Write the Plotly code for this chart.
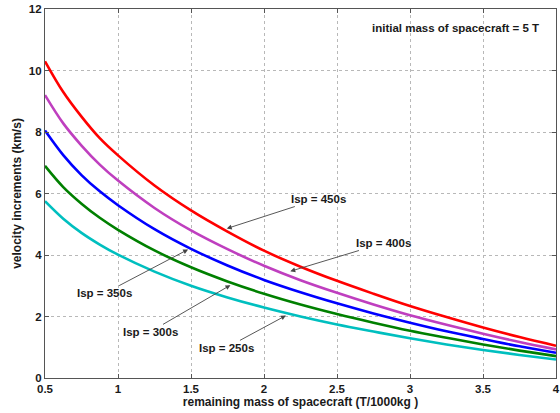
import plotly.graph_objects as go

# remaining mass of spacecraft (T)
mass = [0.5, 0.625, 0.75, 0.875, 1.0, 1.25, 1.5, 1.75, 2.0, 2.25, 2.5, 2.75, 3.0, 3.25, 3.5, 3.75, 4.0]

# velocity increments (km/s) for each specific impulse
dv_450 = [10.3, 9.3, 8.5, 7.8, 7.24, 6.26, 5.45, 4.76, 4.14, 3.62, 3.16, 2.74, 2.34, 1.98, 1.64, 1.33, 1.05]
dv_400 = [9.2, 8.28, 7.56, 6.94, 6.42, 5.53, 4.8, 4.19, 3.65, 3.18, 2.77, 2.39, 2.04, 1.73, 1.44, 1.17, 0.93]
dv_350 = [8.05, 7.25, 6.6, 6.07, 5.62, 4.84, 4.2, 3.66, 3.19, 2.79, 2.43, 2.1, 1.8, 1.52, 1.27, 1.03, 0.82]
dv_300 = [6.9, 6.21, 5.67, 5.21, 4.82, 4.15, 3.6, 3.14, 2.74, 2.39, 2.08, 1.8, 1.54, 1.31, 1.09, 0.89, 0.71]
dv_250 = [5.75, 5.18, 4.72, 4.34, 4.01, 3.46, 3.0, 2.62, 2.29, 2.0, 1.74, 1.51, 1.29, 1.09, 0.91, 0.75, 0.6]

series = [
    ("Isp = 450s", dv_450, "#ff0000"),
    ("Isp = 400s", dv_400, "#bf3fbf"),
    ("Isp = 350s", dv_350, "#0000ff"),
    ("Isp = 300s", dv_300, "#008000"),
    ("Isp = 250s", dv_250, "#00bfbf"),
]

# label placement: (text x, text y, arrow tip x, arrow tip y) in data units
label_pos = {
    "Isp = 450s": (2.37, 5.82, 1.745, 4.86),
    "Isp = 400s": (2.82, 4.39, 2.18, 3.47),
    "Isp = 350s": (0.91, 2.76, 1.48, 4.18),
    "Isp = 300s": (1.22, 1.50, 1.77, 3.02),
    "Isp = 250s": (1.74, 0.98, 2.15, 2.03),
}

x_ticks = [0.5, 1, 1.5, 2, 2.5, 3, 3.5, 4]
x_ticktext = ["0.5", "1", "1.5", "2", "2.5", "3", "3.5", "4"]
y_ticks = [0, 2, 4, 6, 8, 10, 12]

fig = go.Figure()
for name, vals, color in series:
    fig.add_trace(go.Scatter(
        x=mass, y=vals, mode="lines", name=name,
        line=dict(color=color, width=2.6, shape="spline", smoothing=1.0),
        showlegend=False,
    ))

family = "Liberation Sans, Arial, sans-serif"
text_font = dict(family=family, size=11.5, color="#1a1a1a", weight="bold")

annotations = []
for name, (tx, ty, hx, hy) in label_pos.items():
    annotations.append(dict(
        x=hx, y=hy, xref="x", yref="y",
        ax=tx, ay=ty, axref="x", ayref="y",
        text=name, showarrow=True,
        arrowhead=2, arrowsize=1.1, arrowwidth=0.9, arrowcolor="#444444",
        font=text_font, standoff=0, startstandoff=0,
    ))
annotations.append(dict(
    x=3.31, y=11.38, xref="x", yref="y",
    text="initial mass of spacecraft = 5 T", showarrow=False,
    font=text_font,
))

axis_common = dict(
    showline=True, linecolor="#555555", linewidth=1.2, mirror="ticks",
    ticks="inside", ticklen=4, tickcolor="#555555",
    showgrid=True, gridcolor="#b8b8b8", griddash="dot", gridwidth=1,
    zeroline=False, ticklabeloverflow="allow",
    tickfont=dict(family=family, size=11.5, color="#1a1a1a", weight="bold"),
)

fig.update_layout(
    width=560, height=413,
    margin=dict(l=45, r=0, t=9, b=35),
    paper_bgcolor="white", plot_bgcolor="white",
    annotations=annotations,
    xaxis=dict(
        range=[0.5, 4], tickvals=x_ticks, ticktext=x_ticktext,
        title=dict(text="remaining mass of spacecraft (T/1000kg )",
                   font=dict(family=family, size=12, color="#1a1a1a", weight="bold"),
                   standoff=1),
        **axis_common,
    ),
    yaxis=dict(
        range=[0, 12], tickvals=y_ticks,
        title=dict(text="velocity increments (km/s)",
                   font=dict(family=family, size=12, color="#1a1a1a", weight="bold"),
                   standoff=4),
        **axis_common,
    ),
)

fig.write_html("out.html")
